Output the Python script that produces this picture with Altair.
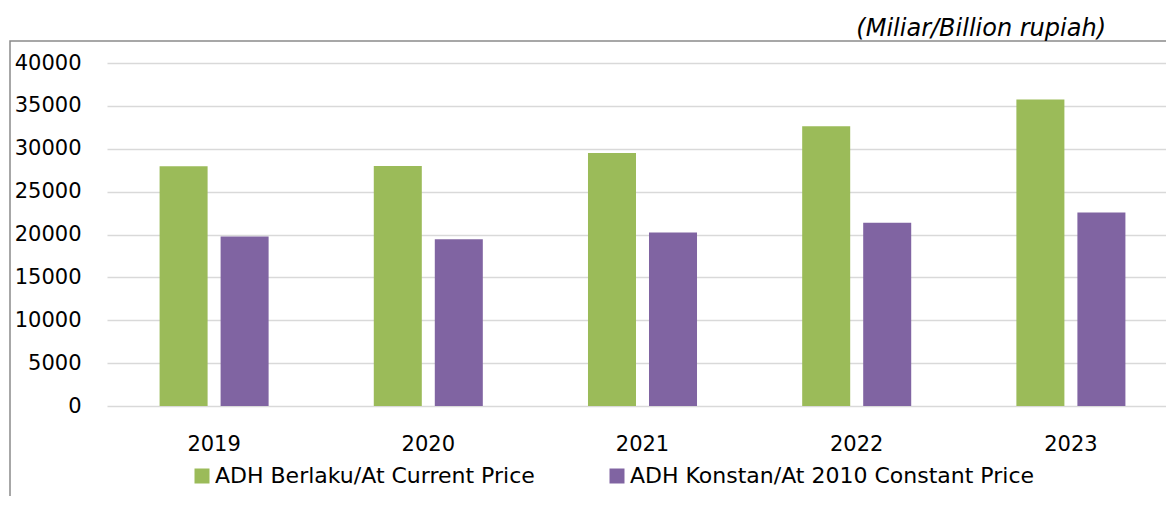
import altair as alt
import pandas as pd

FONT = "DejaVu Sans"

years = ["2019", "2020", "2021", "2022", "2023"]
series_names = ["ADH Berlaku/At Current Price", "ADH Konstan/At 2010 Constant Price"]
current_price = [27960, 28000, 29510, 32620, 35730]
constant_price = [19770, 19460, 20240, 21360, 22570]
y_ticks = [0, 5000, 10000, 15000, 20000, 25000, 30000, 35000, 40000]
unit_label = ["(Miliar/Billion rupiah)"]
colors = ["#9BBB59", "#8064A2"]

rows = []
for i, yr in enumerate(years):
    rows.append({"year": yr, "series": series_names[0], "value": current_price[i]})
    rows.append({"year": yr, "series": series_names[1], "value": constant_price[i]})
df = pd.DataFrame(rows)

bars = alt.Chart(df).mark_bar().encode(
    x=alt.X(
        "year:N",
        sort=years,
        scale=alt.Scale(range=[0, 1071], paddingInner=0.491, paddingOuter=0.2455),
        axis=alt.Axis(
            title=None, labelAngle=0, domain=False, ticks=False, tickSize=0,
            labelPadding=27, labelFontSize=21, labelFont=FONT, labelColor="#000000",
            grid=False,
        ),
    ),
    xOffset=alt.XOffset(
        "series:N", sort=series_names,
        scale=alt.Scale(paddingInner=0.213, paddingOuter=0),
    ),
    y=alt.Y(
        "value:Q",
        scale=alt.Scale(domain=[0, 40000], nice=False),
        axis=alt.Axis(
            values=y_ticks, format="d", title=None, domain=False, ticks=False,
            tickSize=0, labelPadding=26, labelFontSize=21, labelFont=FONT,
            labelColor="#000000", gridColor="#D9D9D9", gridWidth=1.5,
        ),
    ),
    color=alt.Color(
        "series:N",
        sort=series_names,
        scale=alt.Scale(domain=series_names, range=colors),
        legend=alt.Legend(
            title=None, orient="none", legendX=84, legendY=402,
            direction="horizontal", symbolType="square", symbolSize=225,
            symbolStrokeWidth=0, labelFontSize=22, labelFont=FONT,
            labelColor="#000000", labelOffset=2, columnPadding=71, padding=0,
            labelLimit=800,
        ),
    ),
)

border = alt.Chart(pd.DataFrame({"k": [0]})).mark_rect(
    fillOpacity=0, stroke="#8A8A8A", strokeWidth=1.5
).encode(
    x=alt.value(-97), x2=alt.value(1200), y=alt.value(-22), y2=alt.value(600)
)

title = alt.Chart(pd.DataFrame({"t": unit_label})).mark_text(
    align="right", baseline="alphabetic", font=FONT, fontSize=24,
    fontStyle="italic", color="#000000",
).encode(x=alt.value(999), y=alt.value(-27), text="t:N")

chart = alt.layer(border, bars, title).properties(
    width=1059, height=343,
    autosize=alt.AutoSizeParams(type="none"),
    padding={"left": 99, "top": 55, "right": 0, "bottom": 90},
    background="white",
).configure_view(stroke=None)

chart.save("out.html", embed_options={"renderer": "svg", "actions": False})
